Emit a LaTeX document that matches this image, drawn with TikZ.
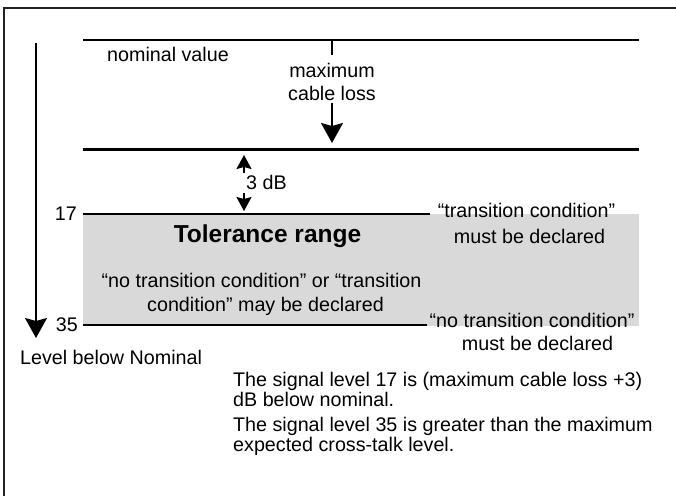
\documentclass[tikz,border=0pt]{standalone}
\usepackage{fontspec}
\setmainfont{Liberation Sans}
\usetikzlibrary{arrows.meta}
\definecolor{tolgray}{HTML}{D9D9D9}
\definecolor{framegray}{HTML}{222222}
\begin{document}
\begin{tikzpicture}[x=1pt,y=-1pt,
  lbl/.style={inner sep=0pt, font=\fontsize{19.7pt}{20.5pt}\selectfont},
  boldlbl/.style={inner sep=0pt, font=\fontsize{24.5pt}{26pt}\selectfont\bfseries},
  lvl/.style={line width=2.2pt, black},
  bigarrow/.style={line width=2pt, -{Stealth[length=20pt,width=22pt,inset=3pt]}},
  smallarrow/.style={line width=1.8pt, -{Stealth[length=14pt,width=15pt,inset=2pt]}}
]
\useasboundingbox (0,0) rectangle (676,495);
% tolerance band
\fill[tolgray] (83,214) rectangle (639,326);
% frame (only top and left edges inside the picture)
\draw[framegray, line width=2.5pt] (4,510) -- (4,8) -- (690,8);

% level lines
\coordinate (nomL) at (83,40);   \coordinate (nomR) at (639,40);
\coordinate (cabL) at (83,149.5);\coordinate (cabR) at (639,149.5);
\coordinate (l17L) at (83,214);  \coordinate (l17R) at (430,214);
\coordinate (l35L) at (83,325);  \coordinate (l35R) at (427,325);
\draw[lvl] (nomL) -- (nomR);
\draw[lvl] (cabL) -- (cabR);
\draw[lvl] (l17L) -- (l17R);
\draw[lvl] (l35L) -- (l35R);

% texts
\node[lbl, anchor=base west] (nomtxt) at (107,61) {nominal value};
\node[lbl, anchor=base] (max1) at (332,77) {maximum};
\node[lbl, anchor=base] (max2) at (332,100) {cable loss};
\node[lbl, anchor=base west] (db) at (246,189) {3 dB};
\node[lbl, anchor=east] (n17) at (77,214) {17};
\node[lbl, anchor=east] (n35) at (78,325) {35};
\node[boldlbl, anchor=base] (tol) at (267.5,242) {Tolerance range};
\node[lbl, anchor=base] (may1) at (261.5,287) {“no transition condition” or “transition};
\node[lbl, anchor=base] (may2) at (265.5,311) {condition” may be declared};
\node[lbl, anchor=base] (tc1) at (526.5,217) {“transition condition”};
\node[lbl, anchor=base] (tc2) at (529.5,243) {must be declared};
\node[lbl, anchor=base] (ntc1) at (532,327) {“no transition condition”};
\node[lbl, anchor=base] (ntc2) at (537.5,350) {must be declared};
\node[lbl, anchor=base west] (lbn) at (20,364) {Level below Nominal};
\node[lbl, anchor=base west] (p1a) at (233,386) {The signal level 17 is (maximum cable loss +3)};
\node[lbl, anchor=base west] (p1b) at (233,406) {dB below nominal.};
\node[lbl, anchor=base west] (p2a) at (233,431) {The signal level 35 is greater than the maximum};
\node[lbl, anchor=base west] (p2b) at (233,451) {expected cross-talk level.};

% cable loss tick and arrow
\coordinate (tickB) at (332,55);
\coordinate (cabS) at (332,103);
\coordinate (cabT) at (332,143);
\draw[line width=2pt] (332,40) -- (tickB);
\draw[bigarrow] (cabS) -- (cabT);

% 3 dB arrows
\coordinate (upS) at (244,173);  \coordinate (upT) at (244,155);
\coordinate (dnS) at (244,193);  \coordinate (dnT) at (244,211);
\draw[smallarrow] (upS) -- (upT);
\draw[smallarrow] (dnS) -- (dnT);

% level axis arrow
\coordinate (axS) at (36,43);
\coordinate (axT) at (36,338);
\draw[bigarrow] (axS) -- (axT);
\end{tikzpicture}
\end{document}
